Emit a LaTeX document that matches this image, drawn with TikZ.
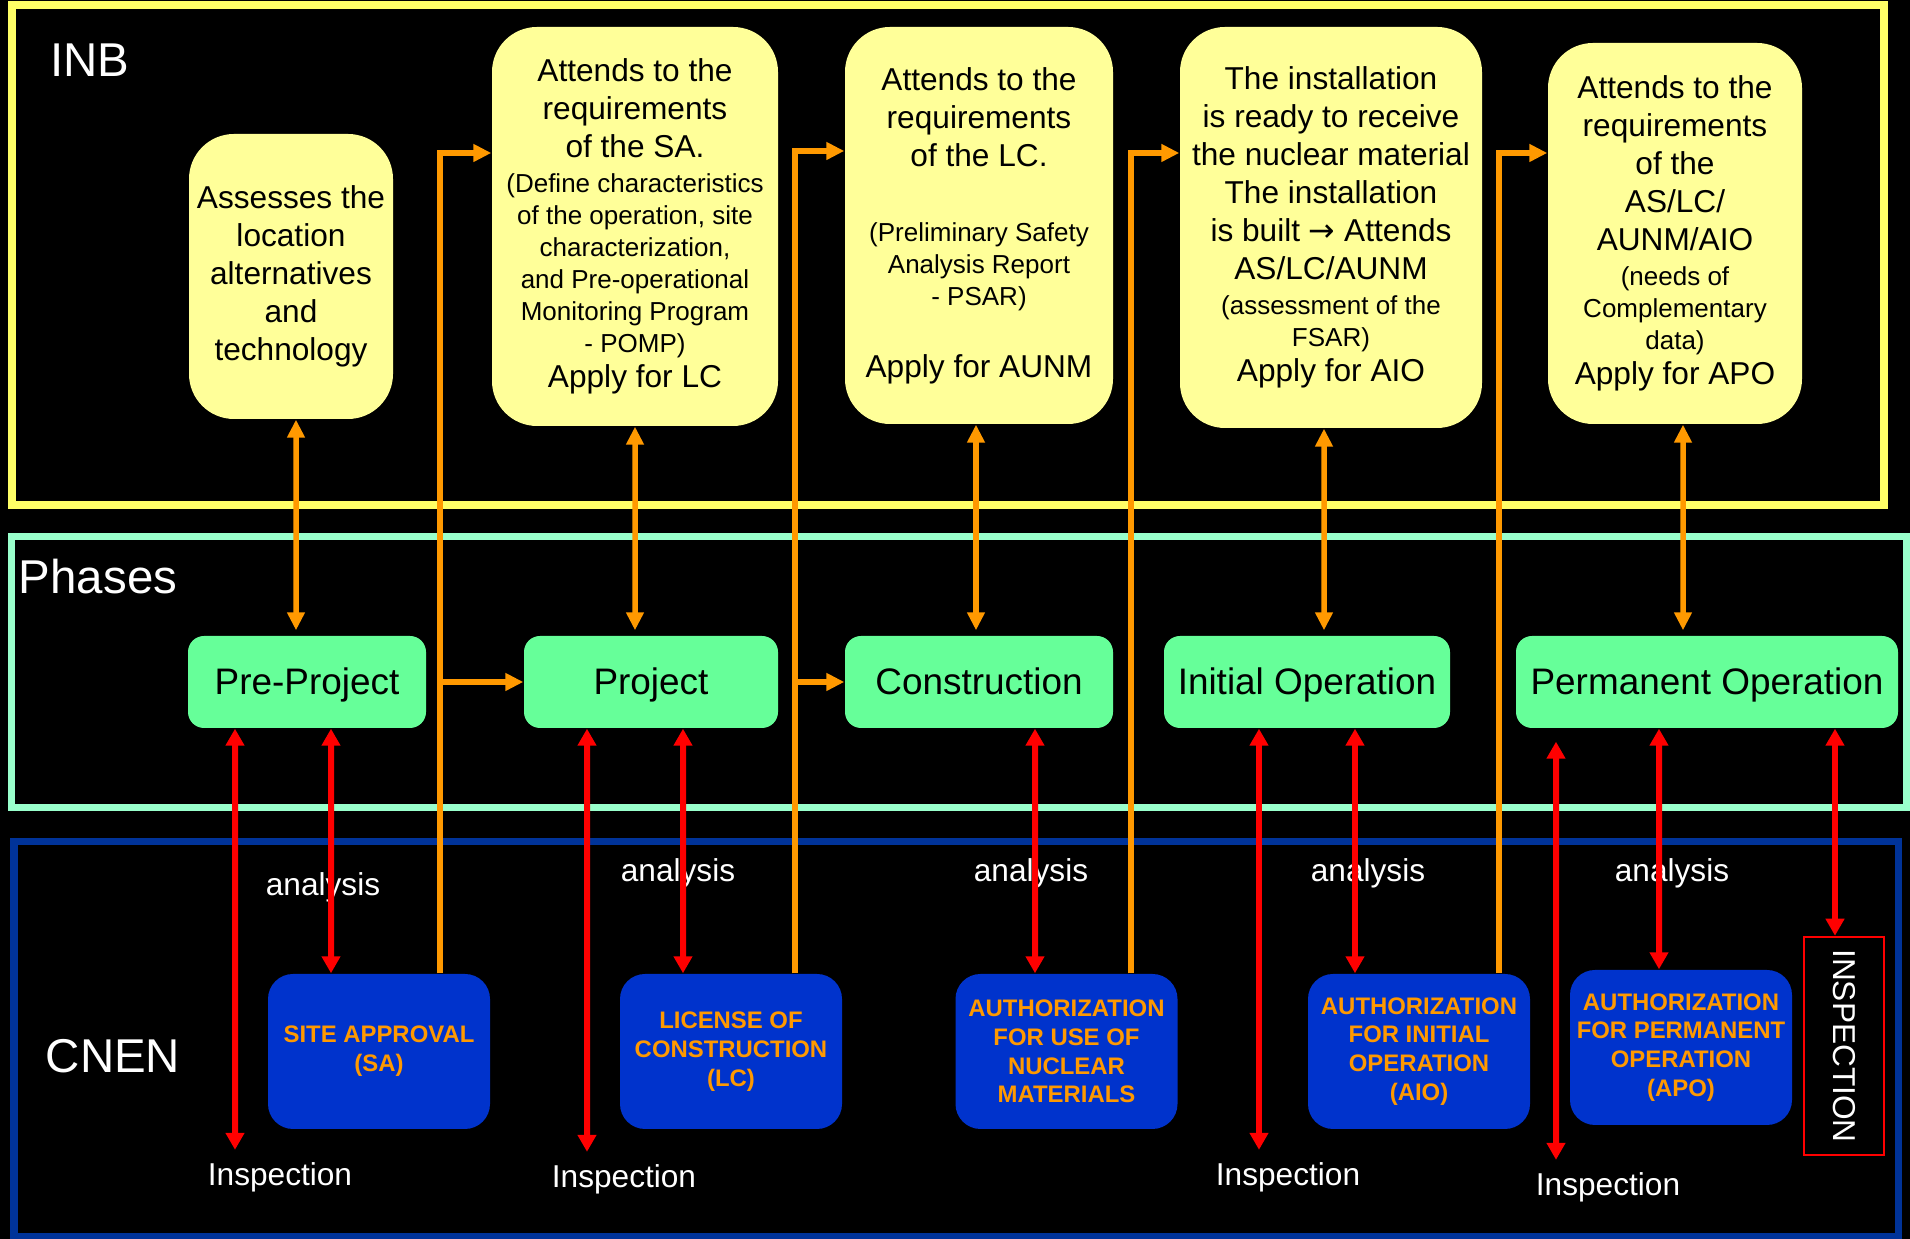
\documentclass[tikz,border=0pt]{standalone}
\usepackage{fontspec}
\setmainfont{Liberation Sans}
\newfontfamily\arrowfont{DejaVu Sans}
\usetikzlibrary{arrows.meta}
\definecolor{inbyellow}{HTML}{FFFF66}
\definecolor{reqyellow}{HTML}{FFFF99}
\definecolor{phasemint}{HTML}{99FFCC}
\definecolor{phasegreen}{HTML}{66FF99}
\definecolor{cnenblue}{HTML}{003399}
\definecolor{authblue}{HTML}{0033CC}
\definecolor{authorange}{HTML}{FF9900}
\newcommand{\detail}[1]{{\fontsize{7.4}{9.1}\selectfont #1}}
\tikzset{
  frameinb/.style={draw=inbyellow, line width=0.8mm},
  framephase/.style={draw=phasemint, line width=0.7mm},
  framecnen/.style={draw=cnenblue, line width=0.7mm},
  reqbox/.style={fill=reqyellow, rounded corners=0.45cm, inner sep=0pt, align=center, font=\fontsize{9}{10.8}\selectfont},
  phasebox/.style={fill=phasegreen, rounded corners=0.16cm, inner sep=0pt, minimum height=0.92cm, text height=0.72em, text depth=0pt, font=\fontsize{10.5}{12.6}\selectfont},
  authbox/.style={fill=authblue, rounded corners=0.25cm, inner sep=0pt, minimum width=2.22cm, minimum height=1.55cm, align=center, text=authorange, font=\bfseries\fontsize{6.8}{8.2}\selectfont},
  inspbox/.style={draw=red, line width=0.25mm, minimum width=2.18cm, minimum height=0.80cm, inner sep=0pt, text=white, font=\fontsize{9}{10.8}\selectfont},
  grouplabel/.style={text=white, font=\fontsize{13.5}{16}\selectfont},
  notelabel/.style={text=white, font=\fontsize{9}{10.8}\selectfont},
  orangeline/.style={draw=authorange, line width=0.55mm, -{Triangle[length=1.8mm,width=1.7mm]}},
  orangeboth/.style={draw=authorange, line width=0.55mm, {Triangle[length=1.8mm,width=1.7mm]}-{Triangle[length=1.8mm,width=1.7mm]}},
  redline/.style={draw=red, line width=0.6mm, {Triangle[length=1.7mm,width=1.8mm]}-{Triangle[length=1.7mm,width=1.8mm]}},
}

\begin{document}
\begin{tikzpicture}
\useasboundingbox (0,0) rectangle (19.10,12.39);
\fill[black] (0,0) rectangle (19.10,12.39);
\draw[frameinb] (0.120,7.340) rectangle (18.840,12.335);
\draw[framephase] (0.110,4.310) rectangle (19.060,7.020);
\draw[framecnen] (0.140,0.020) rectangle (18.980,3.970);
\node[grouplabel] (inb) at (0.900,11.790) {INB};
\node[grouplabel] (phases) at (0.980,6.620) {Phases};
\node[grouplabel] (cnen) at (1.130,1.830) {CNEN};
\node[reqbox, minimum width=2.04cm, minimum height=2.85cm] (assess) at (2.910,9.625)
  {Assesses the\\location\\alternatives\\and\\technology};
\node[reqbox, minimum width=2.86cm, minimum height=3.99cm] (sareq) at (6.350,10.125)
  {Attends to the\\requirements\\of the SA.\\[-0.8pt]\detail{(Define characteristics}\\[-1.7pt]\detail{of the operation, site}\\[-1.7pt]\detail{characterization,}\\[-1.7pt]\detail{and Pre-operational}\\[-1.7pt]\detail{Monitoring Program}\\[-1.7pt]\detail{- POMP)}\\[-0.8pt]Apply for LC};
\node[reqbox, minimum width=2.68cm, minimum height=3.97cm] (lcreq) at (9.790,10.135)
  {Attends to the\\requirements\\of the LC.\\[10.5pt]\detail{(Preliminary Safety}\\[-1.7pt]\detail{Analysis Report}\\[-1.7pt]\detail{- PSAR)}\\[9.7pt]Apply for AUNM};
\node[reqbox, minimum width=3.02cm, minimum height=4.01cm] (aunmreq) at (13.310,10.115)
  {The installation\\is ready to receive\\the nuclear material\\The installation\\is built {\arrowfont →} Attends\\AS/LC/AUNM\\[-0.8pt]\detail{(assessment of the}\\[-1.7pt]\detail{FSAR)}\\[-0.8pt]Apply for AIO};
\node[reqbox, minimum width=2.54cm, minimum height=3.81cm] (aioreq) at (16.750,10.055)
  {Attends to the\\requirements\\of the\\AS/LC/\\AUNM/AIO\\[-0.8pt]\detail{(needs of}\\[-1.7pt]\detail{Complementary}\\[-1.7pt]\detail{data)}\\[-0.8pt]Apply for APO};
\node[phasebox, minimum width=2.38cm] (pre) at (3.070,5.570) {Pre-Project};
\node[phasebox, minimum width=2.54cm] (proj) at (6.510,5.570) {Project};
\node[phasebox, minimum width=2.68cm] (constr) at (9.790,5.570) {Construction};
\node[phasebox, minimum width=2.86cm] (initop) at (13.070,5.570) {Initial Operation};
\node[phasebox, minimum width=3.82cm] (permop) at (17.070,5.570) {Permanent Operation};
\node[authbox] (sab) at (3.790,1.875) {SITE APPROVAL\\(SA)};
\node[authbox] (lcb) at (7.310,1.875) {LICENSE OF\\CONSTRUCTION\\(LC)};
\node[authbox] (aunmb) at (10.665,1.875) {AUTHORIZATION\\FOR USE OF\\NUCLEAR\\MATERIALS};
\node[authbox] (aiob) at (14.190,1.875) {AUTHORIZATION\\FOR INITIAL\\OPERATION\\(AIO)};
\node[authbox] (apob) at (16.810,1.915) {AUTHORIZATION\\FOR PERMANENT\\OPERATION\\(APO)};
\node[inspbox, rotate=-90] (inspect) at (18.440,1.930) {INSPECTION};
\node[notelabel] (an1) at (3.230,3.520) {analysis};
\node[notelabel] (an2) at (6.780,3.660) {analysis};
\node[notelabel] (an3) at (10.310,3.660) {analysis};
\node[notelabel] (an4) at (13.680,3.660) {analysis};
\node[notelabel] (an5) at (16.720,3.660) {analysis};
\node[notelabel] (insp1) at (2.800,0.620) {Inspection};
\node[notelabel] (insp2) at (6.240,0.600) {Inspection};
\node[notelabel] (insp3) at (12.880,0.620) {Inspection};
\node[notelabel] (insp4) at (16.080,0.520) {Inspection};
\draw[orangeboth, shorten >=0.05cm] ([xshift=0.05cm]assess.south) -- ([xshift=-0.11cm]pre.north);
\draw[orangeboth, shorten >=0.05cm] (sareq.south) -- ([xshift=-0.16cm]proj.north);
\draw[orangeboth, shorten >=0.05cm] ([xshift=-0.03cm]lcreq.south) -- ([xshift=-0.03cm]constr.north);
\draw[orangeboth, shorten >=0.05cm] ([xshift=-0.07cm]aunmreq.south) -- ([xshift=0.17cm]initop.north);
\draw[orangeboth, shorten >=0.05cm] ([xshift=0.08cm]aioreq.south) -- ([xshift=-0.24cm]permop.north);
\coordinate (saup) at ([xshift=0.61cm]sab.north);
\coordinate (lcup) at ([xshift=0.64cm]lcb.north);
\coordinate (aunmup) at ([xshift=0.645cm]aunmb.north);
\coordinate (aioup) at ([xshift=0.80cm]aiob.north);
\coordinate (permdown) at ([xshift=1.28cm]permop.south);
\draw[orangeline] (saup) |- ([yshift=0.735cm]sareq.west);
\draw[orangeline] (saup |- proj.west) -- (proj.west);
\draw[orangeline] (lcup) |- ([yshift=0.745cm]lcreq.west);
\draw[orangeline] (lcup |- constr.west) -- (constr.west);
\draw[orangeline] (aunmup) |- ([yshift=0.745cm]aunmreq.west);
\draw[orangeline] (aioup) |- ([yshift=0.805cm]aioreq.west);
\draw[redline] ([xshift=-0.72cm]pre.south) -- ([xshift=-0.45cm]insp1.north);
\draw[redline] ([xshift=0.24cm]pre.south) -- ([xshift=-0.48cm]sab.north);
\draw[redline] ([xshift=-0.64cm]proj.south) -- ([xshift=-0.37cm]insp2.north);
\draw[redline] ([xshift=0.32cm]proj.south) -- ([xshift=-0.48cm]lcb.north);
\draw[redline] ([xshift=0.56cm]constr.south) -- ([xshift=-0.315cm]aunmb.north);
\draw[redline] ([xshift=-0.48cm]initop.south) -- ([xshift=-0.29cm]insp3.north);
\draw[redline] ([xshift=0.48cm]initop.south) -- ([xshift=-0.64cm]aiob.north);
\draw[redline, shorten <=0.13cm] ([xshift=-1.51cm]permop.south) -- ([xshift=-0.52cm]insp4.north);
\draw[redline] ([xshift=-0.48cm]permop.south) -- ([xshift=-0.22cm]apob.north);
\draw[redline] (permdown) -- (permdown |- inspect.west);
\end{tikzpicture}
\end{document}
